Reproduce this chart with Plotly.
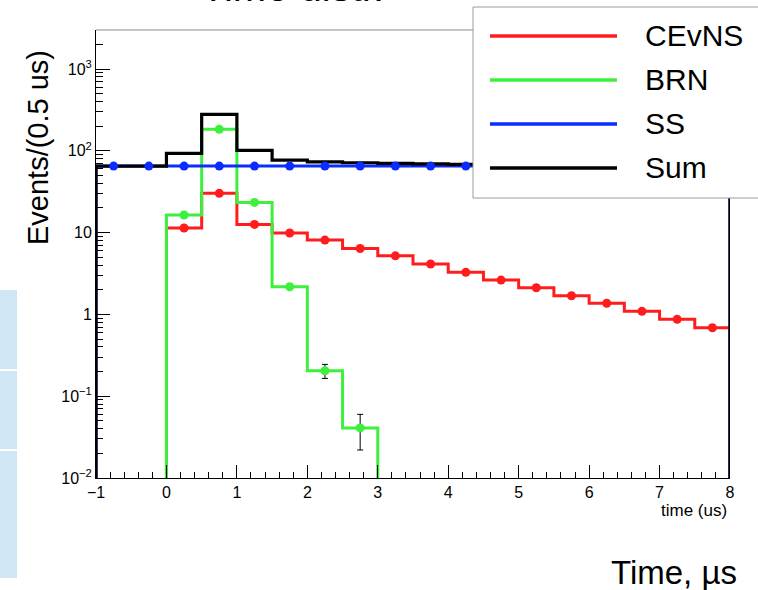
import plotly.graph_objects as go

# ---------------- data ----------------
bin_edges = [-1.0, -0.5, 0.0, 0.5, 1.0, 1.5, 2.0, 2.5, 3.0, 3.5, 4.0,
             4.5, 5.0, 5.5, 6.0, 6.5, 7.0, 7.5, 8.0]
bin_centers = [-0.75, -0.25, 0.25, 0.75, 1.25, 1.75, 2.25, 2.75, 3.25, 3.75,
               4.25, 4.75, 5.25, 5.75, 6.25, 6.75, 7.25, 7.75]

cevns = [0.0, 0.0, 11.4, 30.2, 12.6, 9.9, 8.1, 6.4, 5.2, 4.13,
         3.27, 2.63, 2.12, 1.69, 1.37, 1.09, 0.87, 0.687]
brn = [0.0, 0.0, 16.4, 183.0, 23.4, 2.18, 0.205, 0.041, 0.0, 0.0,
       0.0, 0.0, 0.0, 0.0, 0.0, 0.0, 0.0, 0.0]
brn_err = [0.0, 0.0, 0.5, 2.0, 0.6, 0.12, 0.04, 0.019, 0.0, 0.0,
           0.0, 0.0, 0.0, 0.0, 0.0, 0.0, 0.0, 0.0]
ss = [65.0, 65.0, 65.0, 65.0, 65.0, 65.0, 65.0, 65.0, 65.0, 65.0,
      65.0, 65.0, 65.0, 65.0, 65.0, 65.0, 65.0, 65.0]
sum_vals = [65.0, 65.0, 93.0, 279.0, 101.0, 77.0, 73.3, 71.5, 70.2, 69.1,
            68.3, 67.6, 67.1, 66.7, 66.4, 66.1, 65.9, 65.7]

series_names = ["CEvNS", "BRN", "SS", "Sum"]
x_tick_vals = [-1, 0, 1, 2, 3, 4, 5, 6, 7, 8]
x_tick_text = ["\u22121", "0", "1", "2", "3", "4", "5", "6", "7", "8"]
y_tick_vals = [0.01, 0.1, 1, 10, 100, 1000]
y_tick_text = ["10<sup>\u22122</sup>", "10<sup>\u22121</sup>", "1", "10",
               "10<sup>2</sup>", "10<sup>3</sup>"]

# ---------------- styling ----------------
C_RED = "#ff1c1c"
C_GREEN = "#3ef03e"
C_BLUE = "#0a2cff"
C_BLACK = "#000000"
FONT = "Liberation Sans, Arial, Helvetica, sans-serif"
FLOOR = 1e-5  # below axis range: draws the drop lines to the bottom

W_PX, H_PX = 758, 590
L, R, T, B = 96, 730, 30, 478


def px(X):
    return (X - L) / (R - L)


def py(Y):
    return (B - Y) / (B - T)


def step_xy(values):
    vals = [v if v > 0 else FLOOR for v in values]
    xs = [bin_edges[0]] + list(bin_edges) + [bin_edges[-1]]
    ys = [FLOOR] + vals + [vals[-1], FLOOR]
    return xs, ys


def pts(values, errs=None):
    xs, ys, es = [], [], []
    for i, v in enumerate(values):
        if v > 0:
            xs.append(bin_centers[i])
            ys.append(v)
            es.append(errs[i] if errs else 0)
    return xs, ys, es


fig = go.Figure()

# step outlines
for vals, col, w in [(cevns, C_RED, 3), (brn, C_GREEN, 3), (ss, C_BLUE, 3), (sum_vals, C_BLACK, 3.2)]:
    xs, ys = step_xy(vals)
    fig.add_trace(go.Scatter(x=xs, y=ys, mode="lines", line=dict(color=col, width=w, shape="hv"),
                             showlegend=False, hoverinfo="skip"))

# markers
for vals, col, errs in [(cevns, C_RED, None), (brn, C_GREEN, brn_err), (ss, C_BLUE, None)]:
    xs, ys, es = pts(vals, errs)
    kw = {}
    if errs:
        kw["error_y"] = dict(type="data", array=es, visible=True, color="black", thickness=1, width=3)
    fig.add_trace(go.Scatter(x=xs, y=ys, mode="markers",
                             marker=dict(color=col, size=9, line=dict(width=0)),
                             showlegend=False, **kw))

minor_y = [m * 10.0 ** k for k in range(-2, 4) for m in range(2, 10)]

fig.update_layout(
    width=W_PX, height=H_PX, autosize=False,
    margin=dict(l=L, r=W_PX - R, t=T, b=H_PX - B, pad=0),
    paper_bgcolor="white", plot_bgcolor="white",
    font=dict(family=FONT, color="black"),
    xaxis=dict(range=[-1, 8], tickvals=x_tick_vals, ticktext=x_tick_text,
               ticks="inside", ticklen=13, tickwidth=1, tickcolor="black",
               showline=True, linecolor="black", linewidth=1,
               showgrid=False, zeroline=False, tickfont=dict(size=16, family=FONT),
               minor=dict(dtick=0.2, ticks="inside", ticklen=6, tickcolor="black", tickwidth=1)),
    yaxis=dict(type="log", range=[-2, 3.477], tickvals=y_tick_vals, ticktext=y_tick_text,
               ticks="inside", ticklen=14, tickwidth=1, tickcolor="black",
               showline=True, linecolor="black", linewidth=1,
               showgrid=False, zeroline=False, tickfont=dict(size=16, family=FONT),
               minor=dict(tickvals=minor_y, ticks="inside", ticklen=7, tickcolor="black", tickwidth=1)),
    showlegend=False,
)

shapes = []
# gray top frame line
shapes.append(dict(type="line", xref="paper", yref="paper", x0=0, x1=1, y0=1, y1=1,
                   line=dict(color="#8a8a8a", width=1.2), layer="above"))
# light-blue side boxes at left edge
for y0, y1 in [(290, 369), (371, 449), (451, 578)]:
    shapes.append(dict(type="rect", xref="paper", yref="paper", x0=px(0), x1=px(17),
                       y0=py(y1), y1=py(y0), fillcolor="#d0e6f5", line=dict(width=0), layer="below"))
# legend box
shapes.append(dict(type="rect", xref="paper", yref="paper", x0=px(473), x1=px(770),
                   y0=py(198), y1=py(7), fillcolor="white",
                   line=dict(color="#9a9a9a", width=1), layer="above"))
leg_y = [36, 80, 124, 168]
leg_cols = [C_RED, C_GREEN, C_BLUE, C_BLACK]
annotations = []
for name, yy, col in zip(series_names, leg_y, leg_cols):
    shapes.append(dict(type="line", xref="paper", yref="paper", x0=px(490), x1=px(617),
                       y0=py(yy), y1=py(yy), line=dict(color=col, width=3.5), layer="above"))
    annotations.append(dict(text=name, xref="paper", yref="paper", x=px(643), y=py(yy - 1),
                            xanchor="left", yanchor="middle", showarrow=False,
                            font=dict(size=30, family=FONT, color="black")))

annotations += [
    dict(text="Events/(0.5 us)", xref="paper", yref="paper", x=px(38), y=py(148),
         textangle=-90, xanchor="center", yanchor="middle", showarrow=False,
         font=dict(size=29, family=FONT)),
    dict(text="time (us)", xref="paper", yref="paper", x=px(729), y=py(510),
         xanchor="right", yanchor="middle", showarrow=False, font=dict(size=17, family=FONT)),
    dict(text="Time, \u00b5s", xref="paper", yref="paper", x=px(739), y=py(572),
         xanchor="right", yanchor="middle", showarrow=False, font=dict(size=33, family=FONT)),
    dict(text="Time distr.", xref="paper", yref="paper", x=px(292), y=py(-13),
         xanchor="center", yanchor="middle", showarrow=False, font=dict(size=40, family=FONT)),
]

fig.update_layout(shapes=shapes, annotations=annotations)
fig.write_html("out.html")
